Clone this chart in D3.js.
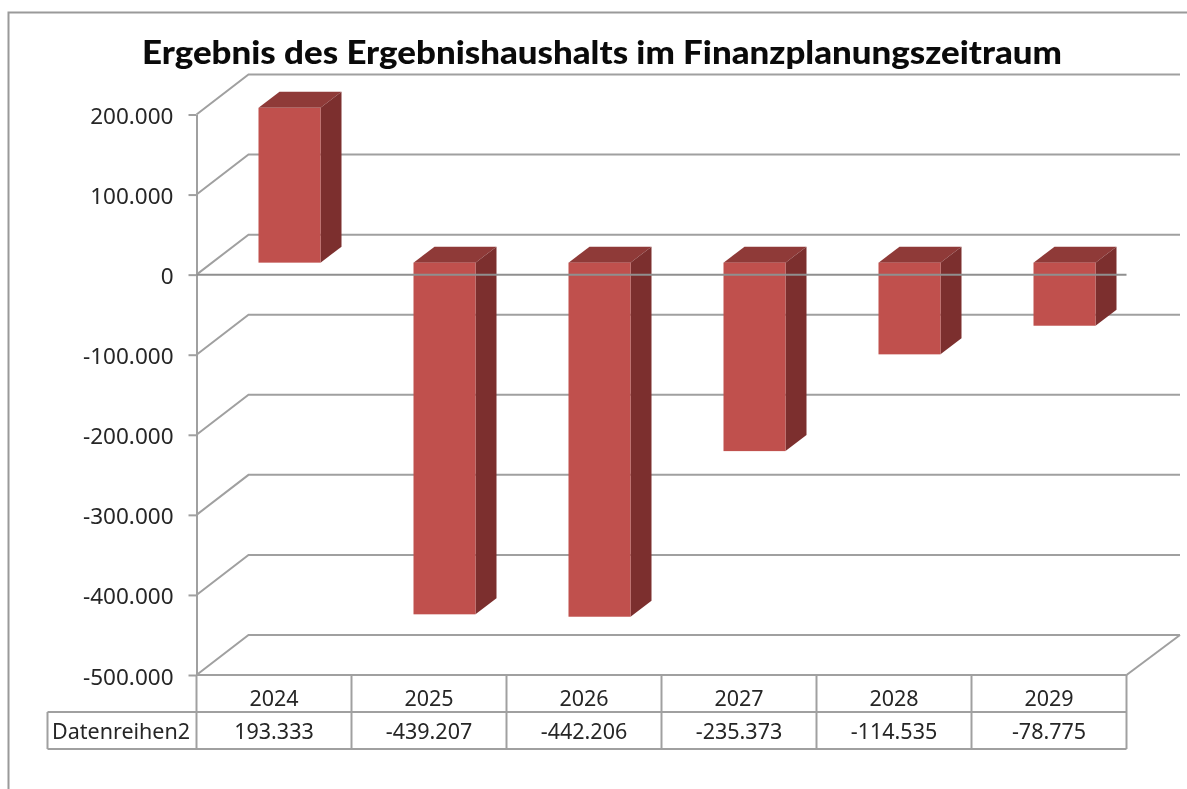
<!DOCTYPE html>
<html>
<head>
<meta charset="utf-8">
<script src="https://cdn.jsdelivr.net/npm/d3@7"></script>
<style>
body { margin: 0; background: #fff; }
svg { display: block; filter: blur(0.55px); }
text { font-family: "Noto Sans", "Open Sans", sans-serif; fill: #262626; }
</style>
</head>
<body>
<div class="chart"></div>
<script>
var title = "Ergebnis des Ergebnishaushalts im Finanzplanungszeitraum";
var seriesName = "Datenreihen2";
var years = ["2024", "2025", "2026", "2027", "2028", "2029"];
var values = [193333, -439207, -442206, -235373, -114535, -78775];
var valueLabels = ["193.333", "-439.207", "-442.206", "-235.373", "-114.535", "-78.775"];
var yTicks = [200000, 100000, 0, -100000, -200000, -300000, -400000, -500000];

var w = 1187;
var h = 789;
var gridColor = "#a0a0a0";
var lineWidth = 2;

// depth of the 3d box and of the bars in it
var depthX = 52, depthY = -40;
var barDepthX = 21, barDepthY = -16;
var barShiftX = 15.5, barShiftY = -12;

var svg = d3.select(".chart")
            .append("svg")
            .attr("width", w)
            .attr("height", h);

var x = d3.scaleBand()
          .domain(years)
          .range([196.5, 1126.5]);

var y = d3.scaleLinear()
          .domain([-500000, 200000])
          .range([675, 114.5]);

var barWidth = x.bandwidth() * 0.4;

// outer frame, only top and left are in the picture
svg.append("path")
   .attr("d", "M8.5," + (h + 5) + "V12.5H" + (w + 5))
   .attr("fill", "none")
   .attr("stroke", "#9a9a9a")
   .attr("stroke-width", 2);

svg.append("text")
   .attr("x", 602)
   .attr("y", 64)
   .attr("text-anchor", "middle")
   .attr("textLength", 920)
   .attr("lengthAdjust", "spacingAndGlyphs")
   .style("font-family", "Lato, sans-serif")
   .style("font-size", "32px")
   .style("font-weight", "900")
   .style("fill", "#0a0a0a")
   .text(title);

// grid lines on side and back wall
var line = d3.line();
svg.selectAll(".grid")
   .data(yTicks)
   .enter()
   .append("path")
   .attr("class", "grid")
   .attr("fill", "none")
   .attr("stroke", gridColor)
   .attr("stroke-width", lineWidth)
   .attr("d", function(d) {
       var x0 = x.range()[0];
       return line([[x0, y(d)], [x0 + depthX, y(d) + depthY], [x.range()[1] + depthX + 1.5, y(d) + depthY]]);
   });

// floor
svg.append("path")
   .attr("fill", "none")
   .attr("stroke", gridColor)
   .attr("stroke-width", lineWidth)
   .attr("d", line([
       [x.range()[1], y(-500000)],
       [x.range()[1] + depthX + 1.5, y(-500000) + depthY]
   ]));

// value axis with tick marks
svg.append("g")
   .attr("transform", "translate(" + x.range()[0] + ",0)")
   .call(d3.axisLeft(y)
           .tickValues(yTicks)
           .tickSize(8)
           .tickSizeOuter(0)
           .tickPadding(15)
           .tickFormat(function(d) {
               return d3.format(",")(d).replace(/,/g, ".").replace("−", "-");
           }))
   .call(function(g) {
       g.selectAll("line").attr("stroke", gridColor).attr("stroke-width", lineWidth);
       g.select(".domain").attr("stroke", gridColor).attr("stroke-width", lineWidth);
       g.selectAll("text")
        .attr("dy", "0.4em")
        .style("font-size", "22.5px")
        .style("font-family", "'Noto Sans', sans-serif");
   });

function barX(i) {
    return x(years[i]) + x.bandwidth() / 2 + barShiftX - barWidth / 2;
}

var bars = svg.selectAll(".bar")
              .data(values)
              .enter()
              .append("g")
              .attr("class", "bar");

function barTop(d) { return y(Math.max(d, 0)) + barShiftY; }
function barBottom(d) { return y(Math.min(d, 0)) + barShiftY; }

// top face
bars.append("path")
    .attr("fill", "#8f3a38")
    .attr("d", function(d, i) {
        var l = barX(i), t = barTop(d);
        return line([[l, t], [l + barWidth, t], [l + barWidth + barDepthX, t + barDepthY], [l + barDepthX, t + barDepthY]]) + "Z";
    });

// side face
bars.append("path")
    .attr("fill", "#7c2f2e")
    .attr("d", function(d, i) {
        var r = barX(i) + barWidth, t = barTop(d), b = barBottom(d);
        return line([[r, t], [r + barDepthX, t + barDepthY], [r + barDepthX, b + barDepthY], [r, b]]) + "Z";
    });

// front face
bars.append("rect")
    .attr("x", function(d, i) { return barX(i); })
    .attr("y", barTop)
    .attr("width", barWidth)
    .attr("height", function(d) { return barBottom(d) - barTop(d); })
    .attr("fill", "#c0504d");

// zero line runs in front of the bars
svg.append("line")
   .attr("x1", x.range()[0])
   .attr("x2", x.range()[1])
   .attr("y1", y(0))
   .attr("y2", y(0))
   .attr("stroke", "#8f8f8f")
   .attr("stroke-width", lineWidth);

// data table under the plot
var rowTop = y(-500000), rowH = 37;

svg.append("path")
   .attr("fill", "none")
   .attr("stroke", gridColor)
   .attr("stroke-width", lineWidth)
   .attr("d", "M" + x.range()[0] + "," + rowTop + "H" + x.range()[1] +
              "M47.5," + (rowTop + rowH) + "H" + x.range()[1] +
              "M47.5," + (rowTop + 2 * rowH) + "H" + x.range()[1] +
              "M47.5," + (rowTop + rowH) + "V" + (rowTop + 2 * rowH));

svg.selectAll(".cell")
   .data(years.concat("end"))
   .enter()
   .append("line")
   .attr("class", "cell")
   .attr("x1", function(d) { return d == "end" ? x.range()[1] : x(d); })
   .attr("x2", function(d) { return d == "end" ? x.range()[1] : x(d); })
   .attr("y1", rowTop)
   .attr("y2", rowTop + 2 * rowH)
   .attr("stroke", gridColor)
   .attr("stroke-width", lineWidth);

svg.selectAll(".year")
   .data(years)
   .enter()
   .append("text")
   .attr("class", "year")
   .attr("x", function(d) { return x(d) + x.bandwidth() / 2; })
   .attr("y", rowTop + 31)
   .attr("text-anchor", "middle")
   .style("font-size", "21.5px")
   .text(function(d) { return d; });

svg.selectAll(".val")
   .data(valueLabels)
   .enter()
   .append("text")
   .attr("class", "val")
   .attr("x", function(d, i) { return x(years[i]) + x.bandwidth() / 2; })
   .attr("y", rowTop + rowH + 27)
   .attr("text-anchor", "middle")
   .style("font-size", "21.5px")
   .text(function(d) { return d; });

svg.append("text")
   .attr("x", 52)
   .attr("y", rowTop + rowH + 27)
   .style("font-size", "21.5px")
   .text(seriesName);
</script>
</body>
</html>
